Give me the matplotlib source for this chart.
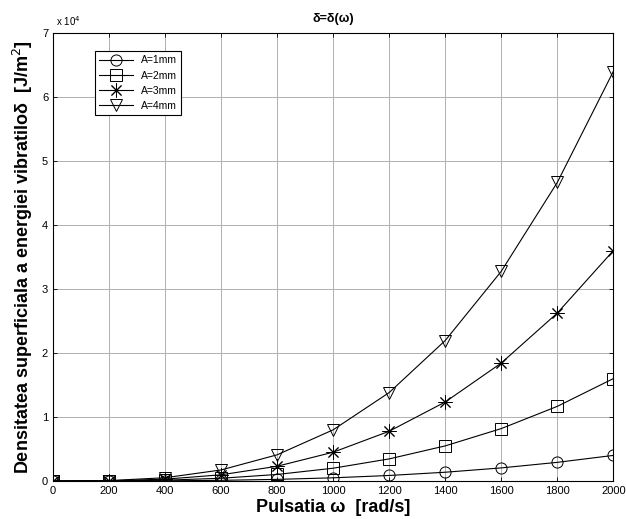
import matplotlib
matplotlib.use("Agg")
import matplotlib.pyplot as plt
import numpy as np

plt.rcParams["font.family"] = ["Liberation Sans", "DejaVu Sans"]

omega = [0, 200, 400, 600, 800, 1000, 1200, 1400, 1600, 1800, 2000]
delta_a1 = [0, 4, 32, 108, 256, 500, 864, 1372, 2048, 2916, 4000]
delta_a2 = [0, 16, 128, 432, 1024, 2000, 3456, 5488, 8192, 11664, 16000]
delta_a3 = [0, 36, 288, 972, 2304, 4500, 7776, 12348, 18432, 26244, 36000]
delta_a4 = [0, 64, 512, 1728, 4096, 8000, 13824, 21952, 32768, 46656, 64000]
labels = ["A=1mm", "A=2mm", "A=3mm", "A=4mm"]
markers = ["o", "s", (8, 2, 0), "v"]

fig = plt.figure(figsize=(6.26, 5.19), dpi=100)
ax = fig.add_axes([0.0847, 0.0732, 0.895, 0.863])

for ys, lab, m in zip([delta_a1, delta_a2, delta_a3, delta_a4], labels, markers):
    ms = 10 if isinstance(m, tuple) else 8
    ax.plot(omega, ys, color="black", lw=0.8, marker=m, ms=ms, mfc="none",
            mec="black", mew=0.7, label=lab)

ax.set_xlim(0, 2000)
ax.set_ylim(0, 70000)
ax.set_xticks(omega)
ax.set_yticks(np.arange(0, 70001, 10000))
ax.set_yticklabels([str(i) for i in range(8)])
ax.tick_params(direction="in", labelsize=8, length=3, width=0.6, top=True, right=True)
ax.grid(True, color="#b0b0b0", lw=0.7)
for s in ax.spines.values():
    s.set_linewidth(0.8)

ax.text(0.005, 1.012, "x 10$^4$", transform=ax.transAxes, fontsize=7, ha="left", va="bottom")
ax.set_title("δ=δ(ω)", fontsize=9, fontweight="bold", pad=8)
ax.set_xlabel("Pulsatia ω  [rad/s]", fontsize=13, fontweight="bold", labelpad=2)
ax.set_ylabel("Densitatea superficiala a energiei vibratiloδ  [J/m$^2$]",
              fontsize=13, fontweight="bold", labelpad=5)

leg = ax.legend(loc="upper left", bbox_to_anchor=(0.066, 0.971), fontsize=7.5,
                frameon=True, fancybox=False, edgecolor="black", framealpha=1,
                handlelength=3.2, borderpad=0.4, labelspacing=0.5)
leg.get_frame().set_linewidth(0.8)

fig.savefig("out.png", dpi=100)
